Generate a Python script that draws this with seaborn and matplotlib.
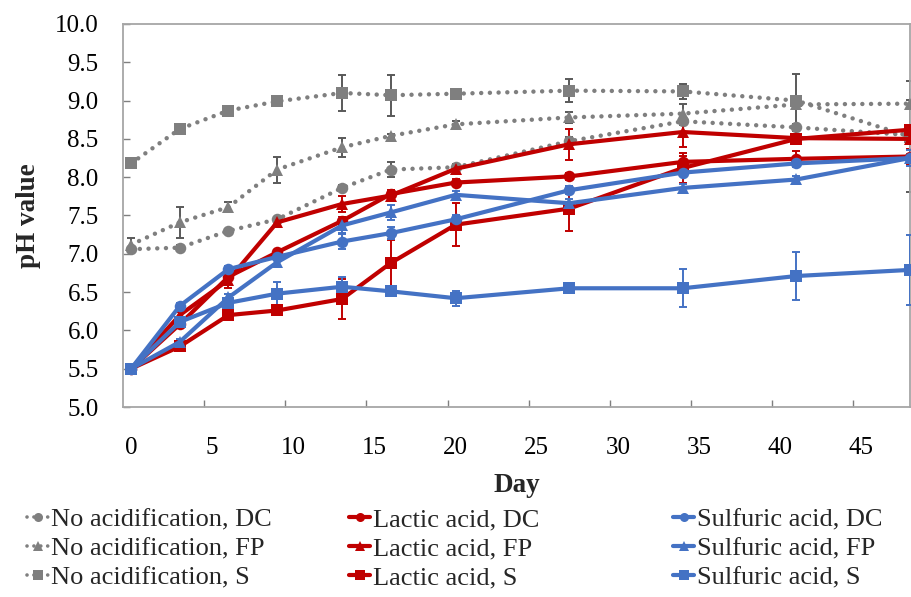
import matplotlib
matplotlib.use("Agg")
import matplotlib.pyplot as plt
from matplotlib.lines import Line2D
from matplotlib.ticker import FixedLocator, FormatStrFormatter
import seaborn as sns
import pandas as pd

days = [0, 3, 6, 9, 13, 16, 20, 27, 34, 41, 48]

no_acid_dc = [7.06, 7.08, 7.30, 7.45, 7.86, 8.10, 8.13, 8.47, 8.73, 8.65, 8.55]
no_acid_fp = [7.12, 7.41, 7.61, 8.10, 8.39, 8.54, 8.69, 8.78, 8.83, 8.95, 8.96]
no_acid_s = [8.18, 8.63, 8.87, 8.99, 9.10, 9.07, 9.09, 9.13, 9.12, 9.00, 8.53]
lactic_dc = [5.50, 6.08, 6.70, 7.02, 7.43, 7.78, 7.93, 8.01, 8.20, 8.24, 8.27]
lactic_fp = [5.50, 6.20, 6.66, 7.41, 7.65, 7.76, 8.11, 8.43, 8.59, 8.51, 8.50]
lactic_s = [5.50, 5.79, 6.20, 6.26, 6.41, 6.88, 7.38, 7.59, 8.12, 8.50, 8.62]
sulfuric_dc = [5.50, 6.32, 6.80, 6.96, 7.16, 7.27, 7.45, 7.83, 8.06, 8.18, 8.25]
sulfuric_fp = [5.50, 5.85, 6.43, 6.89, 7.37, 7.54, 7.77, 7.66, 7.86, 7.97, 8.25]
sulfuric_s = [5.50, 6.11, 6.36, 6.48, 6.57, 6.51, 6.42, 6.55, 6.55, 6.71, 6.79]

no_acid_dc_err = [0.03, 0.03, 0.03, 0.03, 0.04, 0.10, 0.04, 0.05, 0.05, 0.05, 0.05]
no_acid_fp_err = [0.08, 0.20, 0.06, 0.17, 0.12, 0.03, 0.05, 0.07, 0.12, 0.06, 0.05]
no_acid_s_err = [0.03, 0.07, 0.03, 0.06, 0.23, 0.27, 0.06, 0.15, 0.10, 0.35, 0.72]
lactic_dc_err = [0.02, 0.03, 0.05, 0.03, 0.05, 0.05, 0.05, 0.05, 0.08, 0.10, 0.10]
lactic_fp_err = [0.02, 0.04, 0.10, 0.04, 0.10, 0.05, 0.05, 0.20, 0.20, 0.06, 0.06]
lactic_s_err = [0.02, 0.04, 0.05, 0.04, 0.26, 0.30, 0.28, 0.29, 0.20, 0.05, 0.05]
sulfuric_dc_err = [0.02, 0.04, 0.04, 0.04, 0.10, 0.08, 0.05, 0.05, 0.05, 0.05, 0.05]
sulfuric_fp_err = [0.02, 0.04, 0.04, 0.04, 0.10, 0.10, 0.05, 0.05, 0.05, 0.05, 0.10]
sulfuric_s_err = [0.02, 0.04, 0.04, 0.15, 0.13, 0.05, 0.10, 0.03, 0.25, 0.31, 0.46]

x_tick_labels = ["0", "5", "10", "15", "20", "25", "30", "35", "40", "45"]
y_tick_values = [5.0, 5.5, 6.0, 6.5, 7.0, 7.5, 8.0, 8.5, 9.0, 9.5, 10.0]

GRAY, RED, BLUE = "#7F7F7F", "#C00000", "#4472C4"
DOT = (0, (0.01, 1.95))

series = [
    ("No acidification, DC", no_acid_dc, no_acid_dc_err, GRAY, "o", DOT),
    ("No acidification, FP", no_acid_fp, no_acid_fp_err, GRAY, "^", DOT),
    ("No acidification, S", no_acid_s, no_acid_s_err, GRAY, "s", DOT),
    ("Lactic acid, DC", lactic_dc, lactic_dc_err, RED, "o", "-"),
    ("Lactic acid, FP", lactic_fp, lactic_fp_err, RED, "^", "-"),
    ("Lactic acid, S", lactic_s, lactic_s_err, RED, "s", "-"),
    ("Sulfuric acid, DC", sulfuric_dc, sulfuric_dc_err, BLUE, "o", "-"),
    ("Sulfuric acid, FP", sulfuric_fp, sulfuric_fp_err, BLUE, "^", "-"),
    ("Sulfuric acid, S", sulfuric_s, sulfuric_s_err, BLUE, "s", "-"),
]

sns.set_theme(style="white")
plt.rcParams["font.family"] = ["Liberation Serif", "DejaVu Serif"]

fig = plt.figure(figsize=(9.11, 5.97), dpi=100)
ax = fig.add_axes([123 / 911, 1 - 407 / 597, 787 / 911, 383 / 597])

handles = []
for i, (name, vals, err, col, mk, ls) in enumerate(series):
    df = pd.DataFrame({"Day": days, "pH": vals})
    ecol = "#595959" if col == GRAY else col
    ax.errorbar(days, vals, yerr=err, fmt="none", ecolor=ecol, elinewidth=1.4,
                capsize=2.6, capthick=1.4, zorder=2 + i * 0.1)
    dotted = ls == DOT
    sns.lineplot(data=df, x="Day", y="pH", ax=ax, color=col,
                 linewidth=3.2 if dotted else 3.0, linestyle=ls,
                 marker=mk, markersize=9.0 if mk == "^" else 8.3,
                 markeredgewidth=0, dash_capstyle="round",
                 zorder=3 + i * 0.1, legend=False)
    handles.append(Line2D([], [], color=col, linewidth=2.6 if dotted else 3.0,
                          linestyle=(0, (0.01, 1.9)) if dotted else "-",
                          dash_capstyle="round", marker=mk,
                          markersize=7.0 if mk == "^" else 6.5, markeredgewidth=0,
                          label=name))

ax.set_xlim(-0.5, 48.0)
ax.set_ylim(5.0, 10.0)
ax.xaxis.set_major_locator(FixedLocator([0, 5, 10, 15, 20, 25, 30, 35, 40, 45]))
ax.set_xticklabels(x_tick_labels)
ax.xaxis.set_minor_locator(FixedLocator([4.5, 9.5, 14.5, 19.5, 24.5, 29.5, 34.5, 39.5, 44.5]))
ax.yaxis.set_major_locator(FixedLocator(y_tick_values))
ax.yaxis.set_major_formatter(FormatStrFormatter("%.1f"))

ax.tick_params(axis="x", which="major", length=0, pad=21.5, labelsize=18, labelcolor="black")
ax.tick_params(axis="x", which="minor", direction="in", length=5, width=1.0,
               color="#7F7F7F", bottom=True)
ax.tick_params(axis="y", which="major", direction="in", length=5, width=1.0,
               color="#7F7F7F", left=True, pad=17.5, labelsize=18, labelcolor="black")

for sp in ax.spines.values():
    sp.set_color("#A6A6A6")
    sp.set_linewidth(1.3)

ax.set_xlabel("Day", fontsize=19.5, fontweight="bold", labelpad=10)
ax.set_ylabel("pH value", fontsize=19.5, fontweight="bold", labelpad=10)

col_x = [27 / 911, 349 / 911, 673 / 911]
for c in range(3):
    fig.legend(handles=handles[c * 3:(c + 1) * 3], loc="upper left",
               bbox_to_anchor=(col_x[c], 1 - 508 / 597), frameon=False,
               fontsize=19, handlelength=0.8, handletextpad=0.1,
               labelspacing=0.2, borderpad=0, borderaxespad=0)

fig.savefig("out.png", dpi=100)
